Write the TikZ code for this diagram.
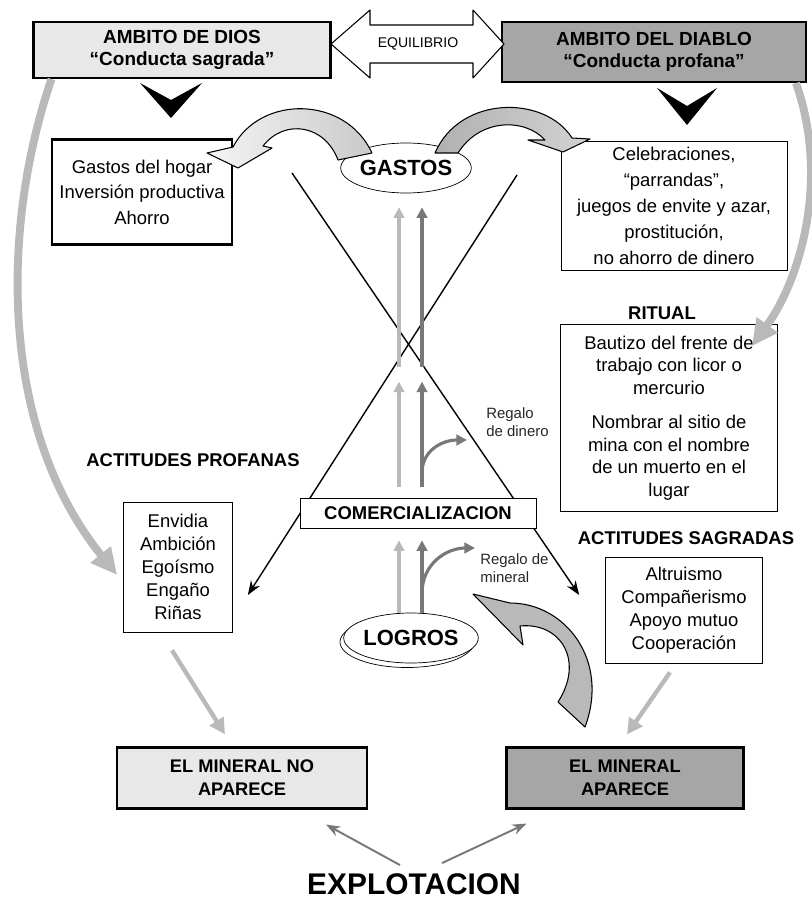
\documentclass[tikz,border=0pt]{standalone}
\usepackage{fontspec}
\setmainfont{Liberation Sans}
\usetikzlibrary{positioning,calc,shapes.geometric,arrows.meta}

\definecolor{lgray}{RGB}{185,185,185}
\definecolor{dgray}{RGB}{120,120,120}
\definecolor{palebox}{RGB}{232,232,232}
\definecolor{darkbox}{RGB}{166,166,166}

\begin{document}
\begin{tikzpicture}[
            x=0.02cm, y=-0.02cm,
            box/.style = {draw, rectangle, align=center, inner sep=1pt, font=\fontsize{10.5}{13}\selectfont},
            headbox/.style = {box, line width=1.2pt, font=\fontsize{10.8}{12.5}\selectfont\bfseries},
            minbox/.style = {box, line width=1.2pt, minimum height=1.22cm, font=\fontsize{10.4}{13}\selectfont\bfseries},
            title/.style = {inner sep=0pt, font=\fontsize{10.5}{12}\selectfont\bfseries},
            oval/.style = {draw, ellipse, inner sep=0pt, fill=white, font=\fontsize{12.5}{15}\selectfont\bfseries},
            gift/.style = {inner sep=0pt, anchor=west, align=left, text=black!85, font=\fontsize{8.5}{10.5}\selectfont},
            bigcurve/.style = {draw=lgray, line width=4.5pt, -{Triangle[length=15pt, width=14pt]}},
            greyarrow/.style = {draw=lgray, line width=2.5pt, -{Triangle[length=9pt, width=9pt]}},
            lite/.style = {draw=lgray, line width=1.8pt, -{Triangle[length=6pt, width=6pt]}},
            dark/.style = {draw=dgray, line width=1.8pt, -{Triangle[length=6pt, width=6pt]}},
            xline/.style = {draw, line width=0.8pt, -{Stealth[length=8pt, width=6pt]}},
            expl/.style = {draw=dgray, line width=1.1pt, -{Stealth[length=8pt, width=6pt]}},
            block/.style = {draw, line width=0.6pt, line join=round}
        ]
        \useasboundingbox (0,0) rectangle (811,902);

        \node[headbox, fill=palebox, minimum width=5.94cm, minimum height=1.12cm] (dios) at (182,50) {AMBITO DE DIOS\\“Conducta sagrada”};
        \node[headbox, fill=darkbox, minimum width=6.08cm, minimum height=1.2cm] (diablo) at (654,52) {AMBITO DEL DIABLO\\“Conducta profana”};

        \draw[block, fill=white] (331,44) -- (370,10) -- (370,25) -- (473,25) -- (473,10) -- (504,44)
            -- (473,78) -- (473,63) -- (370,63) -- (370,78) -- cycle;
        \node[inner sep=0pt, font=\fontsize{8}{9}\selectfont] (equil) at (418,44) {EQUILIBRIO};

        \fill (140,83) -- (171,100) -- (202,83) -- (171,118) -- cycle;
        \fill (657,88) -- (687,106) -- (717,88) -- (687,125) -- cycle;

        \node[box, line width=1.3pt, minimum width=3.6cm, minimum height=2.1cm, font=\fontsize{10.5}{14.5}\selectfont] (hogar) at (142,192) {Gastos del hogar\\Inversión productiva\\Ahorro};
        \node[box, minimum width=4.52cm, minimum height=2.58cm, font=\fontsize{10.5}{14.8}\selectfont] (fiesta) at (674,206) {Celebraciones,\\“parrandas”,\\juegos de envite y azar,\\prostitución,\\no ahorro de dinero};

        \node[title] (ritualt) at (662,313) {RITUAL};
        \node[box, minimum width=4.34cm, minimum height=3.74cm, font=\fontsize{10.5}{12.8}\selectfont] (ritual) at (669,418) {Bautizo del frente de\\trabajo con licor o\\mercurio\\[7pt]Nombrar al sitio de\\mina con el nombre\\de un muerto en el\\lugar};

        \node[title] (profanas) at (193,460) {ACTITUDES PROFANAS};
        \node[box, minimum width=2.18cm, minimum height=2.6cm] (envidia) at (178,567) {Envidia\\Ambición\\Egoísmo\\Engaño\\Riñas};

        \node[title] (sagradas) at (686,538) {ACTITUDES SAGRADAS};
        \node[box, minimum width=3.14cm, minimum height=2.12cm] (altru) at (684,610) {Altruismo\\Compañerismo\\Apoyo mutuo\\Cooperación};

        \node[oval, minimum width=2.44cm, minimum height=1cm] (gastos) at (406,168) {GASTOS};

        \draw[block, left color=gray!8, right color=gray!42] (338,160) .. controls (325,125) and (285,118) .. (263,146)
            -- (272,148) -- (238,168) -- (207,153) -- (233,147) .. controls (260,95) and (345,95) .. (372,153) -- cycle;
        \draw[block, left color=gray!62, right color=gray!35] (435,153) .. controls (460,95) and (545,95) .. (572,138)
            -- (590,139) -- (563,152) -- (528,140) -- (545,140) .. controls (525,118) and (480,118) .. (458,153) -- cycle;

        \coordinate (xtopl) at (292,173);
        \coordinate (xtopr) at (517,175);
        \draw[xline] (xtopl) -- ($(altru.west)+(-26,-15)$);
        \draw[xline] (xtopr) -- ($(envidia.east)+(15,28)$);

        \node[box, fill=white, minimum width=4.72cm, minimum height=0.6cm, font=\fontsize{10.5}{12}\selectfont\bfseries] (comer) at (418,513) {COMERCIALIZACION};

        \draw (407,642) ellipse [x radius=67, y radius=25.5];
        \node[oval, minimum width=2.66cm, minimum height=1cm] (logros) at (411,638) {LOGROS};

        \node[gift] (dinero) at (486,422) {Regalo\\de dinero};
        \node[gift] (mineral) at (480,568) {Regalo de\\mineral};

        \foreach \dx/\kind in {-19/lite, 4/dark} {
            \draw[\kind] ($(comer.south)+(\dx,85)$) -- ($(comer.south)+(\dx,12)$);
            \draw[\kind] ($(comer.north)+(\dx,-11)$) -- ($(comer.north)+(\dx,-116)$);
            \draw[\kind] ($(comer.north)+(\dx,-131)$) -- ($(gastos.south)+(\dx+12,14)$);
        }
        \draw[dark] ($(comer.north)+(4,-25)$) .. controls +(0,-22) and +(-25,0) .. ($(dinero.west)+(-19,18)$);
        \draw[dark] ($(comer.south)+(4,65)$) .. controls +(0,-30) and +(-28,0) .. ($(mineral.west)+(-5,-20)$);

        \node[minbox, fill=palebox, minimum width=5cm] (nomin) at (242,778) {EL MINERAL NO\\APARECE};
        \node[minbox, fill=darkbox, minimum width=4.74cm] (simin) at (625,778) {EL MINERAL\\APARECE};
        \node[inner sep=0pt, font=\fontsize{17}{20}\selectfont\bfseries] (explo) at (414,884) {EXPLOTACION};

        \draw[block, fill=gray!55] (473,594) -- (510,603) .. controls (565,603) and (610,660) .. (585,727)
            -- (558,702) .. controls (585,660) and (560,622) .. (520,626) -- (523,645) -- cycle;

        \draw[bigcurve] ($(dios.south west)+(19,0)$) .. controls (0,230) and (0,430) .. ($(envidia.west)+(-6,8)$);
        \draw[bigcurve] ($(diablo.south east)+(-11,0)$) .. controls (830,180) and (800,280) .. ($(ritual.north east)+(-26,22)$);

        \draw[greyarrow] ($(envidia.south)+(-6,18)$) -- ($(nomin.north)+(-17,-12)$);
        \draw[greyarrow] ($(altru.south)+(-14,9)$) -- ($(simin.north)+(2,-12)$);

        \draw[expl] ($(explo.north)+(-14,-8)$) -- ($(nomin.south east)+(-42,15)$);
        \draw[expl] ($(explo.north)+(28,-10)$) -- ($(simin.south west)+(21,14)$);

    \end{tikzpicture}
\end{document}
